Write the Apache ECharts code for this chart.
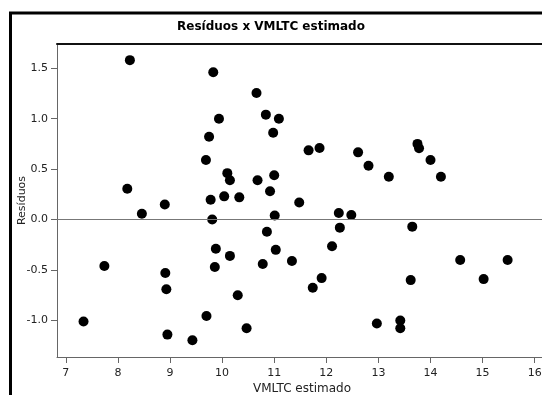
<!DOCTYPE html>
<html>
<head>
<meta charset="utf-8">
<script src="https://cdn.jsdelivr.net/npm/echarts@6/dist/echarts.min.js"></script>
<style>
  html, body { margin: 0; padding: 0; background: #fff; }
  #chart { width: 542px; height: 395px; }
</style>
</head>
<body>
<div id="chart"></div>
<script>
// VMLTC estimado (x) and residual (y)
const fitted = [
  8.23, 9.83, 10.66, 10.84, 11.09, 9.94, 10.98, 9.75, 9.69, 10.10,
  10.15, 10.68, 11.00, 10.92, 8.18, 8.90, 8.46, 9.78, 10.04, 10.33,
  11.01, 11.66, 11.87, 12.61, 12.81, 13.20, 13.75, 13.78, 14.00, 14.20,
  11.48, 12.24, 12.48, 9.81, 10.86, 9.88, 10.15, 11.03, 10.78, 9.86,
  7.74, 8.91, 8.93, 10.30, 9.70, 7.34, 8.95, 9.43, 10.47, 11.34,
  11.91, 11.74, 12.11, 12.26, 13.65, 13.62, 12.97, 13.42, 13.42, 14.57,
  15.48, 15.02
]
const residuals = [
  1.58, 1.46, 1.255, 1.04, 1.00, 1.00, 0.86, 0.82, 0.59, 0.46,
  0.39, 0.39, 0.44, 0.28, 0.305, 0.15, 0.057, 0.196, 0.23, 0.22,
  0.04, 0.686, 0.71, 0.666, 0.534, 0.424, 0.75, 0.706, 0.59, 0.424,
  0.17, 0.066, 0.046, 0.0, -0.12, -0.29, -0.36, -0.30, -0.44, -0.47,
  -0.46, -0.53, -0.69, -0.75, -0.955, -1.01, -1.14, -1.196, -1.077, -0.41,
  -0.58, -0.676, -0.265, -0.08, -0.07, -0.60, -1.03, -1.00, -1.077, -0.40,
  -0.40, -0.59
]
const xTicks = [7, 8, 9, 10, 11, 12, 13, 14, 15, 16]
const yTicks = [-1.0, -0.5, 0.0, 0.5, 1.0, 1.5]

const chart = echarts.init(document.getElementById('chart'))
const font = 'DejaVu Sans'
const points = fitted.map((x, i) => [x, residuals[i]])

chart.setOption({
  backgroundColor: '#fff',
  animation: false,
  title: {
    text: 'Resíduos x VMLTC estimado', left: 'center', top: 16,
    textStyle: { fontFamily: font, fontSize: 12, fontWeight: 'bold', color: '#000' }
  },
  graphic: [
    { type: 'rect', shape: { x: 10.5, y: 13, width: 600, height: 500 }, style: { fill: 'none', stroke: '#000', lineWidth: 3 } }
  ],
  grid: { left: 57, top: 44, right: -5, bottom: 38, outerBoundsMode: 'none' },
  xAxis: [
    {
      type: 'value', min: 6.831, max: 16.236, position: 'bottom',
      name: 'VMLTC estimado', nameLocation: 'middle', nameGap: 26, nameMoveOverlap: false,
      nameTextStyle: { fontFamily: font, fontSize: 12, color: '#222' },
      axisLine: { show: true, onZero: false, lineStyle: { color: '#666', width: 1 } },
      axisTick: { show: true, length: 6, customValues: xTicks, lineStyle: { color: '#666' } },
      axisLabel: { customValues: xTicks, margin: 11, fontFamily: font, fontSize: 11, color: '#222' },
      splitLine: { show: false }
    },
    {
      type: 'value', min: 6.831, max: 16.236, position: 'top',
      axisLine: { show: true, onZero: false, lineStyle: { color: '#111', width: 2 } },
      axisTick: { show: false }, axisLabel: { show: false }, splitLine: { show: false }
    }
  ],
  yAxis: {
    type: 'value', min: -1.362, max: 1.74,
    name: 'Resíduos', nameLocation: 'middle', nameGap: 29, nameRotate: 90, nameMoveOverlap: false,
    nameTextStyle: { fontFamily: font, fontSize: 11, color: '#222' },
    axisLine: { show: true, onZero: false, lineStyle: { color: '#666', width: 1 } },
    axisTick: { show: true, length: 6, customValues: yTicks, lineStyle: { color: '#666' } },
    axisLabel: {
      customValues: yTicks, margin: 9, fontFamily: font, fontSize: 11, color: '#222',
      formatter: (v) => v.toFixed(1)
    },
    splitLine: { show: false }
  },
  series: [{
    type: 'scatter', xAxisIndex: 0, symbol: 'circle', symbolSize: 10,
    itemStyle: { color: '#000', opacity: 1 },
    data: points,
    markLine: {
      silent: true, symbol: 'none', label: { show: false },
      lineStyle: { color: '#777', width: 1, type: 'solid' },
      data: [{ yAxis: 0 }]
    }
  }]
})
</script>
</body>
</html>
